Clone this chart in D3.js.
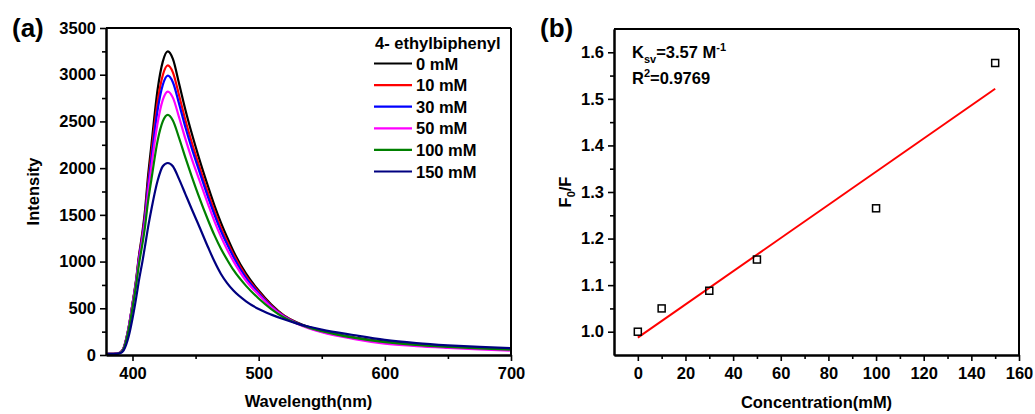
<!DOCTYPE html>
<html>
<head>
<meta charset="utf-8">
<script src="https://cdn.jsdelivr.net/npm/d3@7/dist/d3.min.js"></script>
<style>
  html, body { margin: 0; padding: 0; background: #fff; }
  svg { display: block; }
  text { font-family: "Liberation Sans", Arial, sans-serif; font-weight: bold; fill: #000; }
</style>
</head>
<body>
<svg id="chart" width="1035" height="414"></svg>
<script>
// ---------- Panel (a): emission spectra ----------
const wavelengths = [380,385,390,393,395,397,400,403,405,408,410,412,415,420,424,428,432,437,442,447,452,460,465,470,475,480,490,500,510,520,530,540,550,575,600,625,650,675,700];

const series0mM   = [12,12,25,75,170,300,550,820,1050,1330,1560,1870,2250,2850,3140,3250,3170,2900,2620,2370,2140,1800,1600,1420,1260,1110,870,690,540,425,350,298,258,190,143,113,92,76,65];
const series10mM  = [12,12,25,75,170,298,545,810,1035,1300,1510,1800,2160,2720,2995,3100,3025,2775,2510,2275,2060,1730,1540,1365,1215,1075,845,675,530,420,345,293,253,184,134,106,85,70,58];
const series30mM  = [12,12,25,74,168,296,540,800,1020,1280,1480,1760,2100,2630,2890,2990,2920,2685,2435,2210,2005,1685,1500,1330,1185,1050,825,662,522,415,342,290,250,181,131,103,83,68,56];
const series50mM  = [12,12,24,73,165,292,535,790,1000,1250,1440,1700,2020,2490,2730,2820,2755,2540,2310,2100,1910,1610,1430,1270,1130,1005,795,645,512,410,338,285,244,173,122,95,76,60,47];
const series100mM = [12,12,22,68,155,275,505,760,960,1200,1380,1610,1880,2300,2500,2570,2510,2320,2110,1910,1720,1440,1280,1140,1020,910,740,605,492,402,340,293,256,186,137,107,86,70,58];
const series150mM = [10,10,18,50,110,200,390,620,790,1010,1170,1340,1560,1870,2020,2055,2020,1880,1720,1560,1405,1150,1000,870,770,690,575,492,432,382,338,302,272,214,162,128,104,86,73];

const spectraLabels = ["0 mM","10 mM","30 mM","50 mM","100 mM","150 mM"];
const spectraColors = ["#000000","#ff0000","#0000ff","#ff00ff","#008000","#000080"];
const spectraValues = [series0mM, series10mM, series30mM, series50mM, series100mM, series150mM];
const legendTitle = "4- ethylbiphenyl";

const wlTicks = [400,500,600,700];
const wlMinorTicks = [450,550,650];
const intensityTicks = [0,500,1000,1500,2000,2500,3000,3500];
const intensityMinorTicks = [250,750,1250,1750,2250,2750,3250];

// ---------- Panel (b): Stern–Volmer plot ----------
const concentrations = [0,10,30,50,100,150];
const f0OverF = [1.0,1.05,1.088,1.155,1.265,1.577];
const concTicks = [0,20,40,60,80,100,120,140,160];
const concMinorTicks = [10,30,50,70,90,110,130,150];
const ratioTicks = [1.0,1.1,1.2,1.3,1.4,1.5,1.6];
const ratioMinorTicks = [1.05,1.15,1.25,1.35,1.45,1.55];

const svg = d3.select("#chart");
const FS = 16.5;

function frame(g, w, h) {
  g.append("line").attr("x1",0).attr("x2",w).attr("y1",0).attr("y2",0)
    .attr("stroke","#000").attr("stroke-width",2);
  g.append("line").attr("x1",w).attr("x2",w).attr("y1",0).attr("y2",h)
    .attr("stroke","#000").attr("stroke-width",2);
}

function styleAxis(ax) {
  ax.select(".domain").attr("stroke","#000").attr("stroke-width",2);
  ax.selectAll(".tick line").attr("stroke","#000").attr("stroke-width",1.6);
  ax.selectAll(".tick text").style("font-size", FS + "px")
    .style("font-family","'Liberation Sans', Arial, sans-serif").style("font-weight","bold").attr("fill","#000");
}

// ===== Panel (a) =====
{
  const m = {left:106, top:28, right:511, bottom:355};
  const w = m.right - m.left, h = m.bottom - m.top;
  const g = svg.append("g").attr("transform", `translate(${m.left},${m.top})`);
  const x = d3.scaleLinear().domain([379,700]).range([0,w]);
  const y = d3.scaleLinear().domain([0,3500]).range([h,0]);

  g.append("clipPath").attr("id","clipA").append("rect").attr("width",w).attr("height",h);

  const line = d3.line().x(d => x(d[0])).y(d => y(d[1])).curve(d3.curveMonotoneX);
  const plot = g.append("g").attr("clip-path","url(#clipA)");
  spectraValues.forEach((vals, i) => {
    plot.append("path")
      .datum(wavelengths.map((wl, j) => [wl, vals[j]]))
      .attr("fill","none").attr("stroke",spectraColors[i]).attr("stroke-width",2.2)
      .attr("d", line);
  });

  frame(g, w, h);

  const xMinor = g.append("g").attr("transform",`translate(0,${h})`)
    .call(d3.axisBottom(x).tickValues(wlMinorTicks).tickFormat("").tickSize(4).tickSizeOuter(0));
  styleAxis(xMinor);
  const xAx = g.append("g").attr("transform",`translate(0,${h})`)
    .call(d3.axisBottom(x).tickValues(wlTicks).tickSize(6).tickPadding(6).tickSizeOuter(0));
  styleAxis(xAx);
  const yMinor = g.append("g")
    .call(d3.axisLeft(y).tickValues(intensityMinorTicks).tickFormat("").tickSize(4).tickSizeOuter(0));
  styleAxis(yMinor);
  const yAx = g.append("g")
    .call(d3.axisLeft(y).tickValues(intensityTicks).tickFormat(d3.format("d")).tickSize(6).tickPadding(4).tickSizeOuter(0));
  styleAxis(yAx);

  g.append("text").attr("x", w/2).attr("y", h + 52).attr("text-anchor","middle")
    .style("font-size","16.5px").text("Wavelength(nm)");
  g.append("text").attr("transform",`translate(${-67},${h/2}) rotate(-90)`).attr("text-anchor","middle")
    .style("font-size","16.5px").text("Intensity");
  svg.append("text").attr("x", 12).attr("y", 37).style("font-size","26px").text("(a)");

  // legend
  const lg = g.append("g").attr("transform", `translate(${268},0)`);
  lg.append("text").attr("x", 1).attr("y", 21).style("font-size","16.5px").text(legendTitle);
  spectraLabels.forEach((lab, i) => {
    const yy = 35.5 + i * 21.6;
    lg.append("line").attr("x1",0).attr("x2",38).attr("y1",yy).attr("y2",yy)
      .attr("stroke",spectraColors[i]).attr("stroke-width",2.2);
    lg.append("text").attr("x",42).attr("y",yy + 6).style("font-size","16.5px").text(lab);
  });
}

// ===== Panel (b) =====
{
  const m = {left:614, top:29, right:1019, bottom:355};
  const w = m.right - m.left, h = m.bottom - m.top;
  const g = svg.append("g").attr("transform", `translate(${m.left},${m.top})`);
  const x = d3.scaleLinear().domain([-10,160]).range([0,w]);
  const y = d3.scaleLinear().domain([0.95,1.65]).range([h,0]);

  // least-squares fit of F0/F against concentration
  const mx = d3.mean(concentrations), my = d3.mean(f0OverF);
  const sxy = d3.sum(concentrations, (c,i) => (c-mx)*(f0OverF[i]-my));
  const sxx = d3.sum(concentrations, c => (c-mx)*(c-mx));
  const slope = sxy / sxx, intercept = my - slope*mx;
  const xs = d3.extent(concentrations);
  g.append("line")
    .attr("x1", x(xs[0])).attr("y1", y(intercept + slope*xs[0]))
    .attr("x2", x(xs[1])).attr("y2", y(intercept + slope*xs[1]))
    .attr("stroke","#ff0000").attr("stroke-width",2);

  const s = 7;
  g.selectAll("rect.pt").data(concentrations).join("rect").attr("class","pt")
    .attr("x", d => x(d) - s/2).attr("y", (d,i) => y(f0OverF[i]) - s/2)
    .attr("width", s).attr("height", s)
    .attr("fill","none").attr("stroke","#000").attr("stroke-width",1.5);

  frame(g, w, h);

  const xMinor = g.append("g").attr("transform",`translate(0,${h})`)
    .call(d3.axisBottom(x).tickValues(concMinorTicks).tickFormat("").tickSize(4).tickSizeOuter(0));
  styleAxis(xMinor);
  const xAx = g.append("g").attr("transform",`translate(0,${h})`)
    .call(d3.axisBottom(x).tickValues(concTicks).tickSize(6).tickPadding(6).tickSizeOuter(0));
  styleAxis(xAx);
  const yMinor = g.append("g")
    .call(d3.axisLeft(y).tickValues(ratioMinorTicks).tickFormat("").tickSize(4).tickSizeOuter(0));
  styleAxis(yMinor);
  const yAx = g.append("g")
    .call(d3.axisLeft(y).tickValues(ratioTicks).tickFormat(d3.format(".1f")).tickSize(6).tickPadding(4).tickSizeOuter(0));
  styleAxis(yAx);

  g.append("text").attr("x", w/2).attr("y", h + 53).attr("text-anchor","middle")
    .style("font-size","16.5px").text("Concentration(mM)");
  const yl = g.append("text").attr("transform",`translate(${-43},${y(1.3)}) rotate(-90)`)
    .attr("text-anchor","middle").style("font-size","16.5px");
  yl.append("tspan").text("F");
  yl.append("tspan").attr("dy",4).style("font-size","11px").text("0");
  yl.append("tspan").attr("dy",-4).text("/F");

  const k = g.append("text").attr("x", 18).attr("y", 29).style("font-size","16.5px");
  k.append("tspan").text("K");
  k.append("tspan").attr("dy",5).style("font-size","11px").text("sv");
  k.append("tspan").attr("dy",-5).text("=3.57 M");
  k.append("tspan").attr("dy",-7).style("font-size","11px").text("-1");

  const r = g.append("text").attr("x", 18).attr("y", 55).style("font-size","16.5px");
  r.append("tspan").text("R");
  r.append("tspan").attr("dy",-7).style("font-size","11px").text("2");
  r.append("tspan").attr("dy",7).text("=0.9769");

  svg.append("text").attr("x", 540).attr("y", 37).style("font-size","26px").text("(b)");
}
</script>
</body>
</html>
